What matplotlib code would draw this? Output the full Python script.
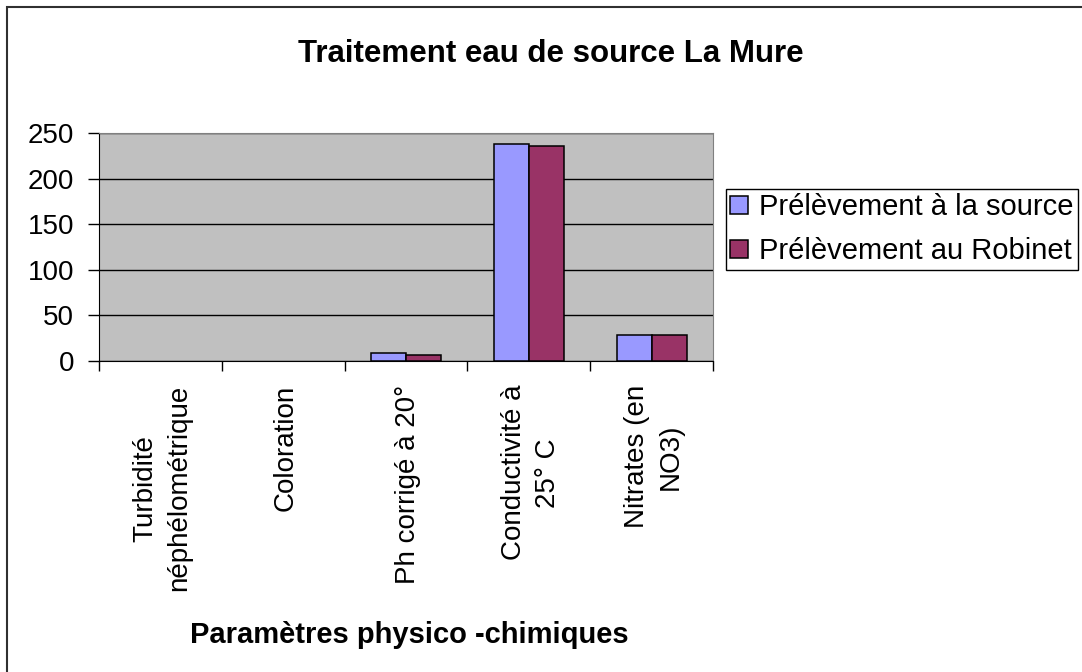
import numpy as np
import matplotlib.pyplot as plt
from matplotlib.patches import Rectangle

# Data
categories = ["Turbidité\nnéphélométrique", "Coloration", "Ph corrigé à 20°",
              "Conductivité à\n25° C", "Nitrates (en\nNO3)"]
source_vals = [0, 0, 8.8, 237.5, 28.3]
robinet_vals = [0, 0, 6.6, 235.3, 28.3]
series_names = ["Prélèvement à la source", "Prélèvement au Robinet"]
yticks = [0, 50, 100, 150, 200, 250]

plt.rcParams['font.family'] = ['Liberation Sans', 'DejaVu Sans']

W, H = 1082, 672
fig = plt.figure(figsize=(W / 100, H / 100), dpi=100)

# outer chart border, cut off at the right and bottom
fig.patches.append(Rectangle((7 / W, -0.5), 2, 1.5 - 7 / H,
                             transform=fig.transFigure, fill=False,
                             edgecolor="#303030", linewidth=1.5))

ax = fig.add_axes([99 / W, 1 - 361 / H, 614 / W, 228 / H])
ax.set_facecolor("#C0C0C0")

x = np.arange(len(categories))
w = 1 / 3.5
ax.bar(x - w / 2, source_vals, w, color="#9999FF", edgecolor="black",
       linewidth=[1.1 if v else 0 for v in source_vals],
       label=series_names[0], zorder=3)
ax.bar(x + w / 2, robinet_vals, w, color="#993366", edgecolor="black",
       linewidth=[1.1 if v else 0 for v in robinet_vals],
       label=series_names[1], zorder=3)

ax.set_xlim(-0.5, len(categories) - 0.5)
ax.set_ylim(0, 250)
ax.set_yticks(yticks)
ax.tick_params(axis="y", labelsize=20, length=8, width=1, pad=10)
ax.yaxis.grid(True, color="black", linewidth=1)
ax.set_axisbelow(True)

# category labels, rotated, top-aligned just under the axis
ax.set_xticks(np.arange(len(categories) + 1) - 0.5)
ax.set_xticklabels([])
ax.tick_params(axis="x", length=7, width=1)
for i, lab in enumerate(categories):
    ax.annotate(lab, xy=(i, 0), xycoords=("data", "axes fraction"),
                xytext=(2, -24), textcoords="offset pixels",
                rotation=90, ha="center", va="top", linespacing=1.4,
                multialignment="center", fontsize=20)

for s in ["top", "right"]:
    ax.spines[s].set_color("#808080")
for s in ["left", "bottom"]:
    ax.spines[s].set_color("black")

fig.text(551 / W, 1 - 62 / H, "Traitement eau de source La Mure",
         ha="center", va="baseline", fontsize=22.5, fontweight="bold")
fig.text(409 / W, 1 - 643 / H, "Paramètres physico -chimiques",
         ha="center", va="baseline", fontsize=21, fontweight="bold")

leg = ax.legend(loc="upper left", bbox_to_anchor=(726 / W, 1 - 189 / H),
                bbox_transform=fig.transFigure, fontsize=21, frameon=True,
                fancybox=False, edgecolor="black", framealpha=1,
                handlelength=0.6, handleheight=0.6, handletextpad=0.38,
                borderpad=0.15, labelspacing=0.55, borderaxespad=0)
leg.get_frame().set_linewidth(1)
for h in leg.legend_handles:
    h.set_edgecolor("black")
    h.set_linewidth(1.1)

fig.savefig("out.png", dpi=100)
